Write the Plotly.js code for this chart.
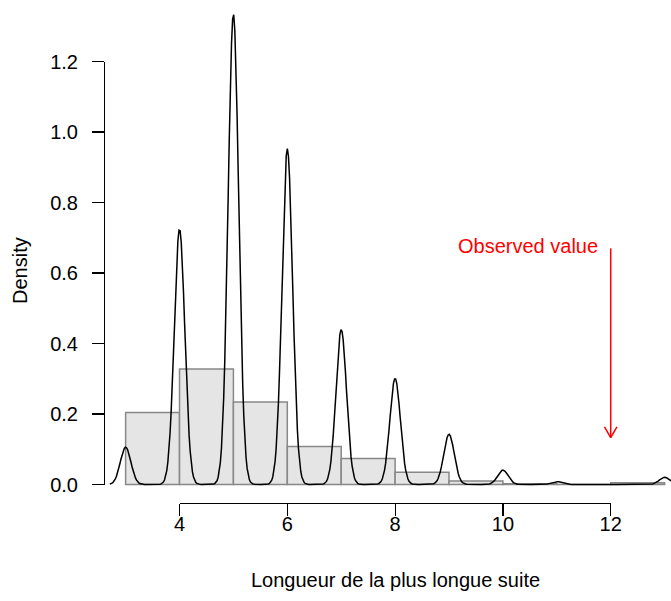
<!DOCTYPE html>
<html>
<head>
<meta charset="utf-8">
<script src="https://cdn.plot.ly/plotly-3.0.1.min.js"></script>
<style>html,body{margin:0;padding:0;background:#fff;}#chart{width:671px;height:601px;}</style>
</head>
<body>
<div id="chart"></div>
<script>
// Observed run lengths (longest run) and their counts in the simulated sample
const runLengths = [3, 4, 5, 6, 7, 8, 9, 10, 11, 12, 13];
const runCounts  = [26, 178, 328, 234, 108, 74, 35, 10, 2, 0, 5];
// Histogram breaks (R-style, right-closed, include.lowest)
const histBreaks = [3, 4, 5, 6, 7, 8, 9, 10, 11, 12, 13];
// Kernel bandwidth of the density estimate
const bandwidth = 0.098;
// Observed value marker
const observedValue = 12;
const arrowTop = 0.67;
const arrowTip = 0.133;
const observedLabel = "Observed value";
const xTickVals = [4, 6, 8, 10, 12];
const yTickVals = [0, 0.2, 0.4, 0.6, 0.8, 1.0, 1.2];
const xTitle = "Longueur de la plus longue suite";
const yTitle = "Density";

const N = runCounts.reduce((a, b) => a + b, 0);

// Histogram densities (R hist: right-closed bins, first bin includes lower bound)
const barX = [], barY = [];
for (let i = 0; i < histBreaks.length - 1; i++) {
  const lo = histBreaks[i], hi = histBreaks[i + 1];
  let c = 0;
  runLengths.forEach((v, j) => {
    if ((v > lo || (i === 0 && v >= lo)) && v <= hi) c += runCounts[j];
  });
  barX.push((lo + hi) / 2);
  barY.push(c / N / (hi - lo));
}

// Gaussian kernel density estimate (as R density(), cut = 3*bw, n = 512)
const xmin = Math.min(...runLengths) - 3 * bandwidth;
const xmax = Math.max(...runLengths) + 3 * bandwidth;
const kx = [], ky = [];
const n = 512;
for (let i = 0; i < n; i++) {
  const x = xmin + (xmax - xmin) * i / (n - 1);
  let s = 0;
  runLengths.forEach((v, j) => {
    const z = (x - v) / bandwidth;
    s += runCounts[j] * Math.exp(-0.5 * z * z);
  });
  kx.push(x);
  ky.push(s / (N * bandwidth * Math.sqrt(2 * Math.PI)));
}

const W = 671, H = 601;
const mL = 104, mR = 0, mT = 0, mB = 98;
const xRange = [2.599, 2.599 + (W - mL - mR) / 53.9];
const yRange = [-(18.5 / 352.5), 484.5 / 352.5];
const fx = v => (v - xRange[0]) / (xRange[1] - xRange[0]);
const fy = v => (v - yRange[0]) / (yRange[1] - yRange[0]);

const FONT = "Liberation Sans, Arial, Helvetica, sans-serif";
const FS = 20;

const traces = [
  {
    type: "bar", x: barX, y: barY, width: 1,
    marker: {color: "#e5e5e5", line: {color: "#888888", width: 1.5}},
    hoverinfo: "skip", showlegend: false
  },
  {
    type: "scatter", mode: "lines", x: kx, y: ky,
    line: {color: "#000000", width: 1.5},
    hoverinfo: "skip", showlegend: false, cliponaxis: false
  },
  {
    type: "scatter", mode: "markers", x: [xTickVals[0]], y: [yTickVals[0]],
    xaxis: "x2", yaxis: "y2", marker: {opacity: 0}, hoverinfo: "skip", showlegend: false
  }
];

const dx = 6.25 / 53.9, dy = 10.8 / 352.5;
const red = "#ff0000";
const layout = {
  width: W, height: H,
  margin: {l: mL, r: mR, t: mT, b: mB, pad: 0},
  paper_bgcolor: "#ffffff", plot_bgcolor: "rgba(0,0,0,0)",
  font: {family: FONT, size: FS, color: "#000"},
  showlegend: false,
  bargap: 0,
  xaxis: {range: xRange, visible: false, fixedrange: true},
  yaxis: {range: yRange, visible: false, fixedrange: true},
  xaxis2: {
    range: [xTickVals[0], xTickVals[xTickVals.length - 1]],
    domain: [fx(xTickVals[0]), fx(xTickVals[xTickVals.length - 1])],
    anchor: "free", position: 0,
    showline: true, linecolor: "#000", linewidth: 1.2,
    ticks: "outside", ticklen: 12, tickwidth: 1.2, tickcolor: "#000",
    tickvals: xTickVals, ticktext: xTickVals.map(String),
    showgrid: false, zeroline: false, ticklabelstandoff: -9,
    tickfont: {family: FONT, size: FS, color: "#000"}
  },
  yaxis2: {
    range: [yTickVals[0], yTickVals[yTickVals.length - 1]],
    domain: [fy(yTickVals[0]), fy(yTickVals[yTickVals.length - 1])],
    anchor: "free", position: 0,
    showline: true, linecolor: "#000", linewidth: 1.2,
    ticks: "outside", ticklen: 12, tickwidth: 1.2, tickcolor: "#000",
    tickvals: yTickVals, ticktext: yTickVals.map(v => v.toFixed(1)),
    showgrid: false, zeroline: false, ticklabelstandoff: 10,
    tickfont: {family: FONT, size: FS, color: "#000"}
  },
  shapes: [
    {type: "line", xref: "x", yref: "y", x0: observedValue, x1: observedValue, y0: arrowTop, y1: arrowTip,
     line: {color: red, width: 1.5}},
    {type: "line", xref: "x", yref: "y", x0: observedValue, x1: observedValue - dx, y0: arrowTip, y1: arrowTip + dy,
     line: {color: red, width: 1.5}},
    {type: "line", xref: "x", yref: "y", x0: observedValue, x1: observedValue + dx, y0: arrowTip, y1: arrowTip + dy,
     line: {color: red, width: 1.5}}
  ],
  annotations: [
    {text: observedLabel, xref: "x", yref: "y", x: observedValue, y: 0.677,
     xanchor: "right", yanchor: "middle", xshift: -11, showarrow: false,
     font: {family: FONT, size: FS, color: red}},
    {text: xTitle, xref: "x", yref: "paper", x: 8, y: ((H - mB) - 580) / (H - mT - mB),
     xanchor: "center", yanchor: "middle", showarrow: false,
     font: {family: FONT, size: FS, color: "#000"}},
    {text: yTitle, xref: "paper", yref: "paper", x: (20 - mL) / (W - mL - mR), y: ((H - mB) - 271) / (H - mT - mB),
     xanchor: "center", yanchor: "middle", textangle: -90, showarrow: false,
     font: {family: FONT, size: FS, color: "#000"}}
  ]
};

Plotly.newPlot("chart", traces, layout, {displayModeBar: false, staticPlot: true});
</script>
</body>
</html>
